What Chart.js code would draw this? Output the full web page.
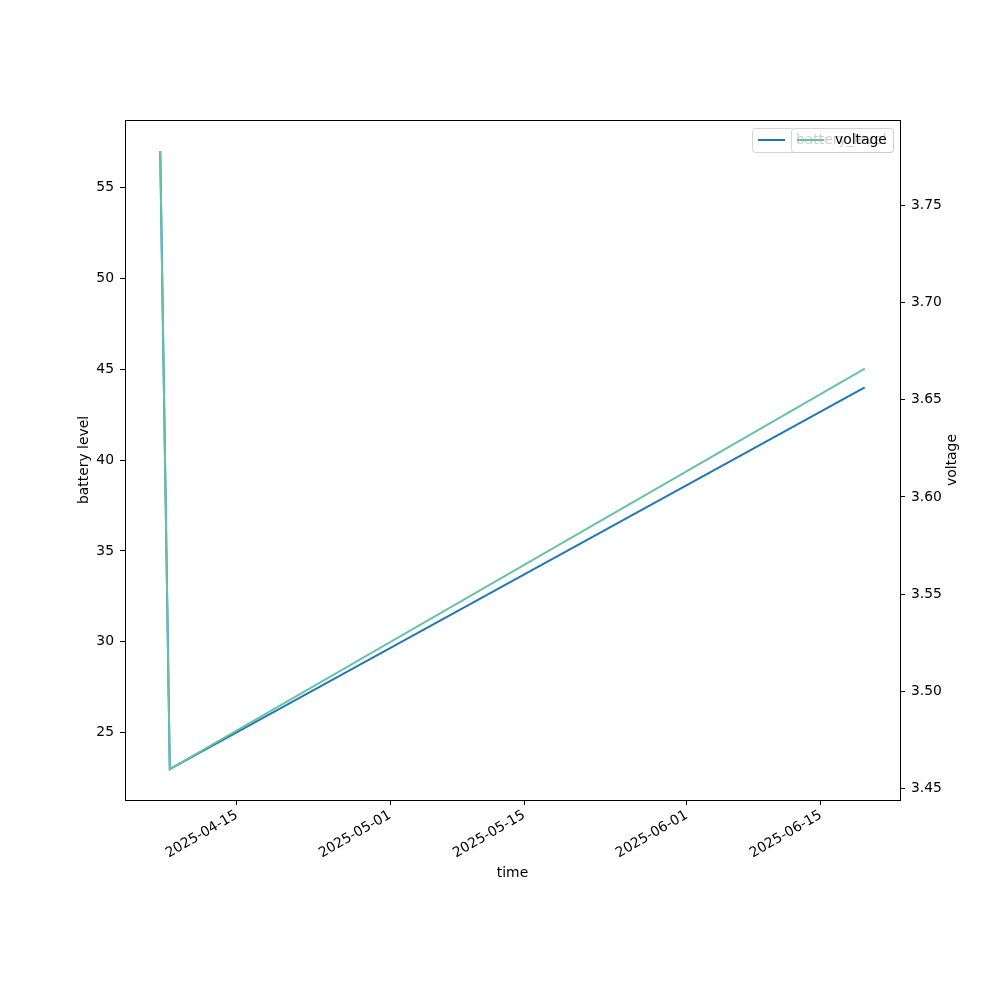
<!DOCTYPE html>
<html><head><meta charset="utf-8">
<script src="https://cdn.jsdelivr.net/npm/chart.js@4.4.0/dist/chart.umd.min.js"></script>
<style>html,body{margin:0;padding:0;background:#fff}#wrap{width:1000px;height:1000px}</style>
</head><body><div id="wrap"><canvas id="c" width="1000" height="1000"></canvas></div>
<script>
const times = ['2025-04-07T00:00:00Z', '2025-04-08T00:00:00Z', '2025-06-19T14:00:00Z'];
const batteryLevel = [57, 23, 44];
const voltage = [3.778, 3.460, 3.666];
const xTickLabels = ['2025-04-15', '2025-05-01', '2025-05-15', '2025-06-01', '2025-06-15'];
const leftTicks = [25, 30, 35, 40, 45, 50, 55];
const rightTicks = [3.45, 3.50, 3.55, 3.60, 3.65, 3.70, 3.75];

const FONT = 'DejaVu Sans';
const FS = 13.9;
const tms = times.map(t => Date.parse(t));
function pad(lo, hi){ const r = hi - lo; return [lo - 0.05*r, hi + 0.05*r]; }
const [xMin, xMax] = pad(Math.min(...tms), Math.max(...tms));
const [lMin, lMax] = pad(Math.min(...batteryLevel), Math.max(...batteryLevel));
const [rMin, rMax] = pad(Math.min(...voltage), Math.max(...voltage));

const decor = {
  id: 'decor',
  afterDraw(chart){
    const ctx = chart.ctx, a = chart.chartArea;
    ctx.save();
    ctx.strokeStyle = '#000'; ctx.lineWidth = 1;
    ctx.strokeRect(Math.round(a.left)+0.5, Math.round(a.top)+0.5, Math.round(a.right-a.left), Math.round(a.bottom-a.top));
    ctx.fillStyle = '#000';
    ctx.font = FS + 'px "' + FONT + '"';
    ctx.textAlign = 'center'; ctx.textBaseline = 'middle';
    ctx.fillText('time', (a.left+a.right)/2, 873);
    ctx.save(); ctx.translate(84, (a.top+a.bottom)/2); ctx.rotate(-Math.PI/2); ctx.fillText('battery level', 0, 0); ctx.restore();
    ctx.save(); ctx.translate(952, (a.top+a.bottom)/2); ctx.rotate(-Math.PI/2); ctx.fillText('voltage', 0, 0); ctx.restore();
    function roundRect(x, y, w, h, r){
      ctx.beginPath();
      ctx.moveTo(x+r, y); ctx.lineTo(x+w-r, y); ctx.quadraticCurveTo(x+w, y, x+w, y+r);
      ctx.lineTo(x+w, y+h-r); ctx.quadraticCurveTo(x+w, y+h, x+w-r, y+h);
      ctx.lineTo(x+r, y+h); ctx.quadraticCurveTo(x, y+h, x, y+h-r);
      ctx.lineTo(x, y+r); ctx.quadraticCurveTo(x, y, x+r, y); ctx.closePath();
    }
    // legends (two overlapping, both upper right)
    function legend(x, w, color, label){
      const y = 128, h = 24;
      ctx.globalAlpha = 0.8;
      ctx.fillStyle = '#fff';
      roundRect(x, y, w, h, 3); ctx.fill();
      ctx.strokeStyle = '#cccccc'; ctx.lineWidth = 1;
      roundRect(x+0.5, y+0.5, w, h, 3); ctx.stroke();
      ctx.globalAlpha = 1;
      ctx.strokeStyle = color; ctx.lineWidth = 2;
      ctx.beginPath(); ctx.moveTo(x+6, y+h/2); ctx.lineTo(x+33, y+h/2); ctx.stroke();
      ctx.fillStyle = '#000'; ctx.textAlign = 'left'; ctx.textBaseline = 'middle';
      ctx.fillText(label, x+44, y+h/2+0.5);
    }
    legend(752, 141, '#1f77b4', 'battery_level');
    legend(791, 102, '#66c2a5', 'voltage');
    ctx.restore();
  }
};

new Chart(document.getElementById('c'), {
  type: 'line',
  data: {
    datasets: [
      { label: 'battery_level', order: 1, data: tms.map((t,i)=>({x:t, y:batteryLevel[i]})), borderColor: '#1f77b4', borderWidth: 2, pointRadius: 0, tension: 0, yAxisID: 'y', fill: false },
      { label: 'voltage', order: 0, data: tms.map((t,i)=>({x:t, y:voltage[i]})), borderColor: '#66c2a5', borderWidth: 2, pointRadius: 0, tension: 0, yAxisID: 'y2', fill: false }
    ]
  },
  options: {
    responsive: false, animation: false, devicePixelRatio: 1,
    layout: { padding: { top: 120, left: 0, right: 0, bottom: 0 } },
    plugins: { legend: { display: false }, tooltip: { enabled: false } },
    scales: {
      x: {
        type: 'linear', min: xMin, max: xMax,
        afterBuildTicks(s){ s.ticks = xTickLabels.map(d => ({ value: Date.parse(d + 'T00:00:00Z') })); },
        afterFit(s){ s.height = 200; },
        ticks: {
          autoSkip: false, minRotation: 30, maxRotation: 30, padding: 2,
          color: '#000', font: { family: FONT, size: FS },
          callback(v){ return new Date(v).toISOString().slice(0,10); }
        },
        grid: { drawOnChartArea: false, drawTicks: true, tickLength: 5, color: '#000', tickColor: '#000' },
        border: { display: true, color: '#000' }
      },
      y: {
        position: 'left', min: lMin, max: lMax,
        afterBuildTicks(s){ s.ticks = leftTicks.map(v => ({ value: v })); },
        afterFit(s){ s.width = 125; },
        ticks: { color: '#000', font: { family: FONT, size: FS }, padding: 6, callback(v){ return String(v); } },
        grid: { drawOnChartArea: false, tickLength: 5, tickColor: '#000' },
        border: { display: true, color: '#000' }
      },
      y2: {
        position: 'right', min: rMin, max: rMax,
        afterBuildTicks(s){ s.ticks = rightTicks.map(v => ({ value: v })); },
        afterFit(s){ s.width = 100; },
        ticks: { color: '#000', font: { family: FONT, size: FS }, padding: 6, callback(v){ return v.toFixed(2); } },
        grid: { drawOnChartArea: false, tickLength: 5, tickColor: '#000' },
        border: { display: true, color: '#000' }
      }
    }
  },
  plugins: [decor]
});
</script></body></html>
